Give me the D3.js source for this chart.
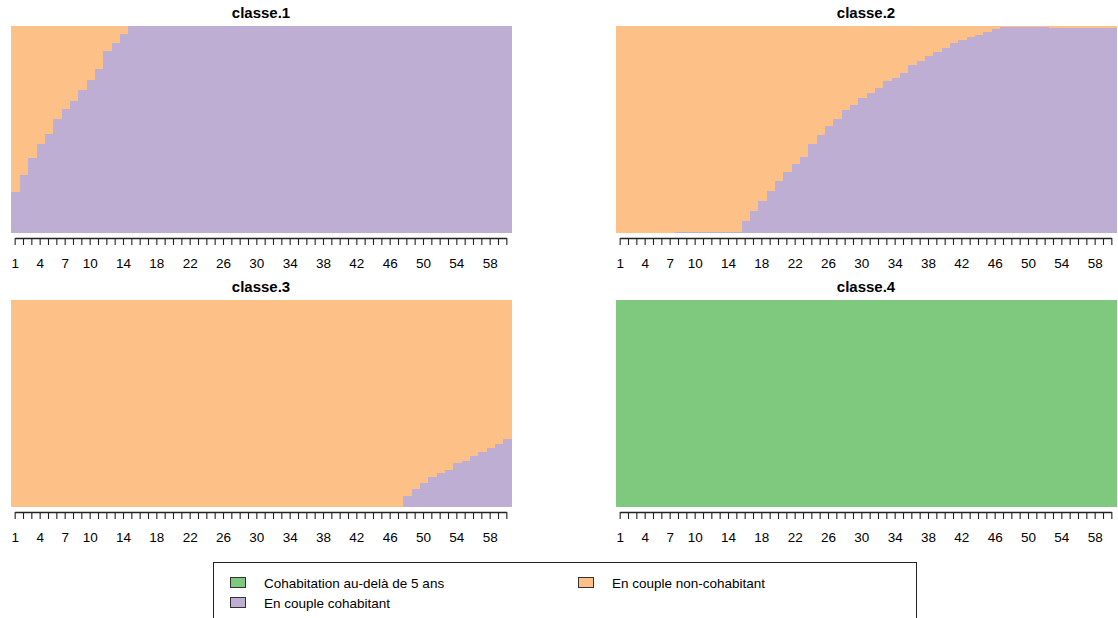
<!DOCTYPE html>
<html>
<head>
<meta charset="utf-8">
<script src="https://cdn.jsdelivr.net/npm/d3@7"></script>
<style>
  html, body { margin: 0; padding: 0; background: #ffffff; }
  svg { display: block; font-family: "Liberation Sans", Arial, sans-serif; }
</style>
</head>
<body>
<svg id="chart" width="1118" height="618"></svg>
<script>
// ---------- DATA ----------
const times = [1,2,3,4,5,6,7,8,9,10,11,12,13,14,15,16,17,18,19,20,
               21,22,23,24,25,26,27,28,29,30,31,32,33,34,35,36,37,38,39,40,
               41,42,43,44,45,46,47,48,49,50,51,52,53,54,55,56,57,58,59,60];
const tickLabels = [1,4,7,10,14,18,22,26,30,34,38,42,46,50,54,58];

const states = ["Cohabitation au-delà de 5 ans", "En couple cohabitant", "En couple non-cohabitant"];
const stateColors = ["#7FC97F", "#BEAED4", "#FDC086"];
const panelTitles = ["classe.1", "classe.2", "classe.3", "classe.4"];

// classe.1
const c1Green  = [0,0,0,0,0,0,0,0,0,0,0,0,0,0,0,0,0,0,0,0,0,0,0,0,0,0,0,0,0,0,
                  0,0,0,0,0,0,0,0,0,0,0,0,0,0,0,0,0,0,0,0,0,0,0,0,0,0,0,0,0,0];
const c1Purple = [0.20,0.28,0.36,0.43,0.48,0.55,0.60,0.64,0.69,0.74,0.79,0.88,0.92,0.96,1,
                  1,1,1,1,1,1,1,1,1,1,1,1,1,1,1,1,1,1,1,1,1,1,1,1,1,1,1,1,1,1,
                  1,1,1,1,1,1,1,1,1,1,1,1,1,1,1];
const c1Orange = [0.80,0.72,0.64,0.57,0.52,0.45,0.40,0.36,0.31,0.26,0.21,0.12,0.08,0.04,0,
                  0,0,0,0,0,0,0,0,0,0,0,0,0,0,0,0,0,0,0,0,0,0,0,0,0,0,0,0,0,0,
                  0,0,0,0,0,0,0,0,0,0,0,0,0,0,0];

// classe.2
const c2Green  = [0,0,0,0,0,0,0,0,0,0,0,0,0,0,0,0,0,0,0,0,0,0,0,0,0,0,0,0,0,0,
                  0,0,0,0,0,0,0,0,0,0,0,0,0,0,0,0,0,0,0,0,0,0,0,0,0,0,0,0,0,0];
const c2Purple = [0,0,0,0,0,0,0,0.005,0.005,0.005,0.005,0.005,0.005,0.005,0.005,
                  0.057,0.105,0.154,0.202,0.252,0.296,0.333,0.369,0.431,0.474,
                  0.518,0.552,0.596,0.620,0.652,0.677,0.701,0.732,0.751,
                  0.774,0.811,0.829,0.854,0.872,0.892,0.916,0.934,0.945,0.958,0.971,0.984,
                  0.995,0.995,0.995,0.995,0.995,0.995,
                  0.990,0.990,0.990,0.990,0.990,0.990,0.990,0.990];
const c2Orange = [1,1,1,1,1,1,1,0.995,0.995,0.995,0.995,0.995,0.995,0.995,0.995,
                  0.943,0.895,0.846,0.798,0.748,0.704,0.667,0.631,0.569,0.526,
                  0.482,0.448,0.404,0.380,0.348,0.323,0.299,0.268,0.249,
                  0.226,0.189,0.171,0.146,0.128,0.108,0.084,0.066,0.055,0.042,0.029,0.016,
                  0.005,0.005,0.005,0.005,0.005,0.005,
                  0.010,0.010,0.010,0.010,0.010,0.010,0.010,0.010];

// classe.3
const c3Green  = [0,0,0,0,0,0,0,0,0,0,0,0,0,0,0,0,0,0,0,0,0,0,0,0,0,0,0,0,0,0,
                  0,0,0,0,0,0,0,0,0,0,0,0,0,0,0,0,0,0,0,0,0,0,0,0,0,0,0,0,0,0];
const c3Purple = [0,0,0,0,0,0,0,0,0,0,0,0,0,0,0,0,0,0,0,0,0,0,0,0,0,0,0,0,0,0,
                  0,0,0,0,0,0,0,0,0,0,0,0,0,0,0,0,0,
                  0.055,0.086,0.118,0.143,0.162,0.178,0.211,0.222,0.248,0.266,0.284,0.303,0.327];
const c3Orange = [1,1,1,1,1,1,1,1,1,1,1,1,1,1,1,1,1,1,1,1,1,1,1,1,1,1,1,1,1,1,
                  1,1,1,1,1,1,1,1,1,1,1,1,1,1,1,1,1,
                  0.945,0.914,0.882,0.857,0.838,0.822,0.789,0.778,0.752,0.734,0.716,0.697,0.673];

// classe.4
const c4Green  = [1,1,1,1,1,1,1,1,1,1,1,1,1,1,1,1,1,1,1,1,1,1,1,1,1,1,1,1,1,1,
                  1,1,1,1,1,1,1,1,1,1,1,1,1,1,1,1,1,1,1,1,1,1,1,1,1,1,1,1,1,1];
const c4Purple = [0,0,0,0,0,0,0,0,0,0,0,0,0,0,0,0,0,0,0,0,0,0,0,0,0,0,0,0,0,0,
                  0,0,0,0,0,0,0,0,0,0,0,0,0,0,0,0,0,0,0,0,0,0,0,0,0,0,0,0,0,0];
const c4Orange = [0,0,0,0,0,0,0,0,0,0,0,0,0,0,0,0,0,0,0,0,0,0,0,0,0,0,0,0,0,0,
                  0,0,0,0,0,0,0,0,0,0,0,0,0,0,0,0,0,0,0,0,0,0,0,0,0,0,0,0,0,0];

// ---------- BUILD ----------
const classes = [
  [c1Green, c1Purple, c1Orange],
  [c2Green, c2Purple, c2Orange],
  [c3Green, c3Purple, c3Orange],
  [c4Green, c4Purple, c4Orange]
];

const svg = d3.select("#chart");
const panels = [
  {x0: 11,  x1: 511,  y0: 26,  y1: 233},
  {x0: 616, x1: 1116, y0: 26,  y1: 233},
  {x0: 11,  x1: 511,  y0: 300, y1: 507},
  {x0: 616, x1: 1116, y0: 300, y1: 507}
];

const keys = ["g", "p", "o"];

panels.forEach((pn, i) => {
  const series = classes[i];
  const table = times.map((t, j) => ({t: t, g: series[0][j], p: series[1][j], o: series[2][j]}));
  const stacked = d3.stack().keys(keys)(table);

  const x = d3.scaleBand().domain(times).range([pn.x0, pn.x1]).padding(0);
  const y = d3.scaleLinear().domain([0, 1]).range([pn.y1, pn.y0]);

  const g = svg.append("g");

  g.selectAll("g.layer")
    .data(stacked)
    .join("g")
      .attr("class", "layer")
      .attr("fill", (d, k) => stateColors[k])
    .selectAll("rect")
    .data(d => d)
    .join("rect")
      .attr("x", d => x(d.data.t))
      .attr("width", x.bandwidth() + 0.6)
      .attr("y", d => y(d[1]))
      .attr("height", d => Math.max(0, y(d[0]) - y(d[1])))
      .attr("shape-rendering", "crispEdges");

  // title
  svg.append("text")
    .attr("x", (pn.x0 + pn.x1) / 2)
    .attr("y", pn.y0 - 8)
    .attr("text-anchor", "middle")
    .attr("font-size", 15)
    .attr("font-weight", "bold")
    .attr("fill", "#000")
    .text(panelTitles[i]);

  // axis
  const axis = d3.axisBottom(x)
    .tickValues(times)
    .tickSize(7)
    .tickSizeOuter(0)
    .tickPadding(13)
    .tickFormat(d => tickLabels.includes(d) ? String(d) : "");

  const ag = svg.append("g")
    .attr("transform", `translate(0,${pn.y1 + 5})`)
    .call(axis);

  const first = x(times[0]) + x.bandwidth() / 2;
  const last = x(times[times.length - 1]) + x.bandwidth() / 2;
  ag.select(".domain")
    .attr("d", `M${first},0.5H${last}`)
    .attr("stroke", "#222")
    .attr("stroke-width", 1.4);
  ag.selectAll(".tick line").attr("stroke", "#222").attr("stroke-width", 1.1);
  ag.selectAll(".tick text")
    .attr("font-size", 13.5)
    .attr("font-family", "\"Liberation Sans\", Arial, sans-serif")
    .attr("fill", "#000");
});

// ---------- LEGEND ----------
const lg = svg.append("g");
lg.append("rect")
  .attr("x", 213.5).attr("y", 562.5)
  .attr("width", 703).attr("height", 70)
  .attr("fill", "none")
  .attr("stroke", "#222")
  .attr("stroke-width", 1);

const legendPos = [
  {sx: 230, ty: 583},
  {sx: 230, ty: 603},
  {sx: 578, ty: 583}
];

states.forEach((s, k) => {
  const p = legendPos[k];
  lg.append("rect")
    .attr("x", p.sx + 0.5).attr("y", p.ty - 5.5)
    .attr("width", 15).attr("height", 10)
    .attr("fill", stateColors[k])
    .attr("stroke", "#333")
    .attr("stroke-width", 1);
  lg.append("text")
    .attr("x", p.sx + 34)
    .attr("y", p.ty)
    .attr("dy", "0.35em")
    .attr("font-size", 13.5)
    .attr("fill", "#000")
    .text(s);
});
</script>
</body>
</html>
